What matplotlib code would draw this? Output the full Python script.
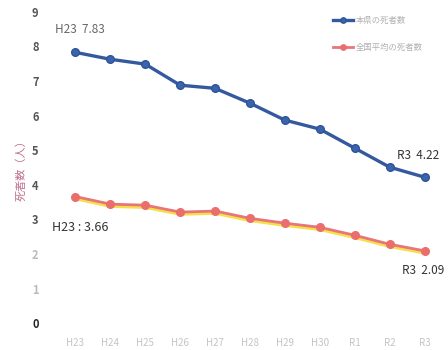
import matplotlib
matplotlib.use("Agg")
import matplotlib.pyplot as plt
import matplotlib.transforms as mtransforms

plt.rcParams['font.family'] = ['Noto Sans CJK JP', 'DejaVu Sans']

years = ["H23", "H24", "H25", "H26", "H27", "H28", "H29", "H30", "R1", "R2", "R3"]
pref_deaths = [7.83, 7.63, 7.49, 6.88, 6.79, 6.36, 5.87, 5.61, 5.06, 4.51, 4.22]
national_deaths = [3.66, 3.44, 3.41, 3.21, 3.24, 3.03, 2.89, 2.77, 2.54, 2.28, 2.09]
pref_label = "本県の死者数"
national_label = "全国平均の死者数"

fig = plt.figure(figsize=(4.48, 3.5), dpi=100)
ax = fig.add_axes([58 / 448, 20 / 350, 384 / 448, 325 / 350])

x = list(range(len(years)))

# yellow under-stroke shifted a couple of pixels down
shadow = mtransforms.offset_copy(ax.transData, fig=fig, x=0, y=-1.5, units='dots')
ax.plot(x, national_deaths, color='#f5e04a', lw=3.2, transform=shadow, zorder=2)
ax.plot(x, national_deaths, color='#e8757a', lw=2.0, marker='o', ms=5.5,
        markerfacecolor='#ea6f6c', markeredgecolor='#ea6f6c', label=national_label, zorder=3)
ax.plot(x, pref_deaths, color='#35599e', lw=2.4, marker='o', ms=5.5,
        markerfacecolor='#3b64ae', markeredgecolor='#2f5597', label=pref_label, zorder=4)

ax.set_xlim(-0.5, len(years) - 0.5)
ax.set_ylim(-0.2, 9.2)
ax.set_xticks(x)
ax.set_xticklabels(years, fontsize=7, color='#c4c4c4')
ax.set_yticks(range(10))
ax.set_yticklabels([str(v) for v in range(10)], fontsize=8, color='#555555', fontweight='bold')
for lbl in ax.get_yticklabels()[1:3]:
    lbl.set_color('#bbbbbb')
ax.get_yticklabels()[0].set_color('#222222')
ax.tick_params(length=0, pad=6)
ax.tick_params(axis='y', pad=14)
for s in ax.spines.values():
    s.set_visible(False)

ax.set_ylabel("死者数（人）", fontsize=8, color='#c0708f', labelpad=4)

ax.annotate(f"H23  {pref_deaths[0]:.2f}", (x[0], pref_deaths[0]), xytext=(-15, 14),
            textcoords='offset points', fontsize=8.5, color='#666666')
ax.annotate(f"H23 : {national_deaths[0]:.2f}", (x[0], national_deaths[0]), xytext=(-17, -25),
            textcoords='offset points', fontsize=9, color='#333333')
ax.annotate(f"R3  {pref_deaths[-1]:.2f}", (x[-1], pref_deaths[-1]), xytext=(-20, 13),
            textcoords='offset points', fontsize=8.5, color='#333333')
ax.annotate(f"R3  {national_deaths[-1]:.2f}", (x[-1], national_deaths[-1]), xytext=(-16, -17),
            textcoords='offset points', fontsize=8.5, color='#333333')

handles, labels = ax.get_legend_handles_labels()
leg = ax.legend(handles[::-1], labels[::-1], loc='upper left', bbox_to_anchor=(325 / 448, 1 - 8 / 350),
                bbox_transform=fig.transFigure, frameon=False, fontsize=6, labelspacing=2.2,
                handlelength=2.4, handletextpad=0.4, markerscale=0.7)
for t in leg.get_texts():
    t.set_color('#b0b0b0')

fig.savefig("out.png", dpi=100)
